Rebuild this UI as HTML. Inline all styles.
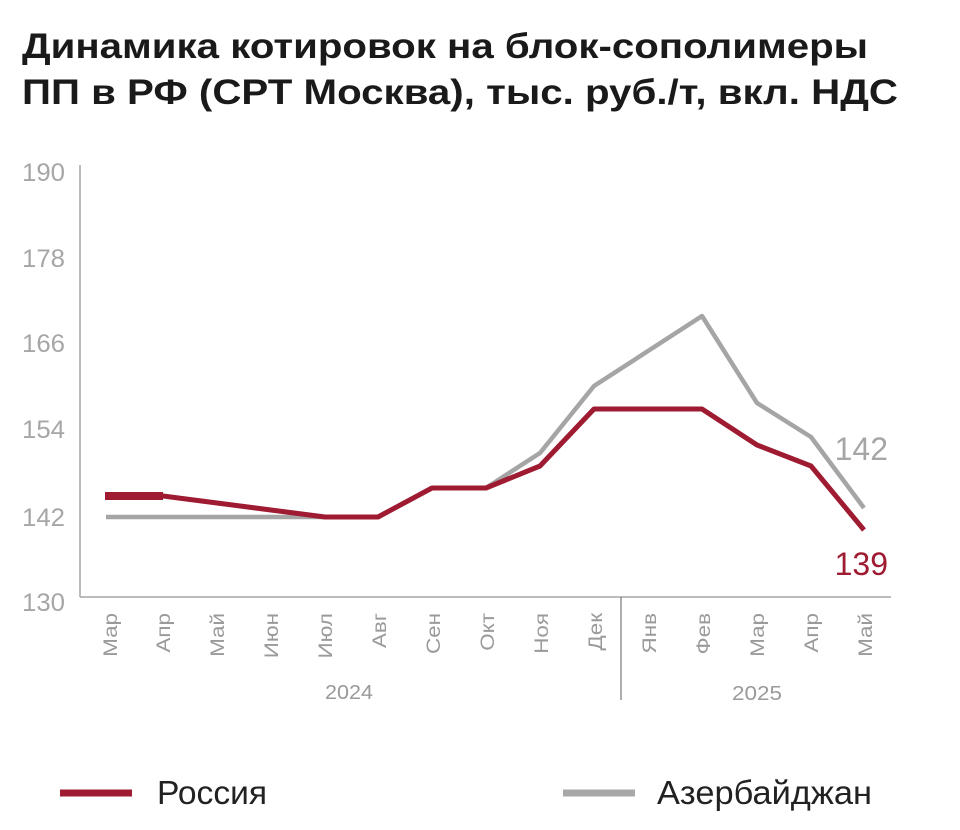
<!DOCTYPE html>
<html><head><meta charset="utf-8"><style>
html,body{margin:0;padding:0;background:#fff;}
svg{display:block;}
</style></head><body>
<svg width="960" height="830" viewBox="0 0 960 830" xmlns="http://www.w3.org/2000/svg">
<rect width="960" height="830" fill="#fff"/>
<g font-family="Liberation Sans, Arial, sans-serif" font-weight="bold" fill="#1a1a1a" font-size="35">
<text x="22" y="58" textLength="846" lengthAdjust="spacingAndGlyphs">Динамика котировок на блок-сополимеры</text>
<text x="22" y="104" textLength="876" lengthAdjust="spacingAndGlyphs">ПП в РФ (СРТ Москва), тыс. руб./т, вкл. НДС</text>
</g>
<g font-family="Liberation Sans, Arial, sans-serif" fill="#a6a6a6" font-size="25" text-anchor="end">
<text x="65" y="181" textLength="43" lengthAdjust="spacingAndGlyphs">190</text>
<text x="65" y="267" textLength="43" lengthAdjust="spacingAndGlyphs">178</text>
<text x="65" y="352" textLength="43" lengthAdjust="spacingAndGlyphs">166</text>
<text x="65" y="438" textLength="43" lengthAdjust="spacingAndGlyphs">154</text>
<text x="65" y="526" textLength="43" lengthAdjust="spacingAndGlyphs">142</text>
<text x="65" y="611" textLength="43" lengthAdjust="spacingAndGlyphs">130</text>
</g>
<line x1="80" y1="165" x2="80" y2="597" stroke="#a6a6a6" stroke-width="1.5"/>
<line x1="80" y1="597" x2="891" y2="597" stroke="#a6a6a6" stroke-width="1.5"/>
<line x1="621" y1="597" x2="621" y2="700" stroke="#777" stroke-width="1.2"/>
<g font-family="Liberation Sans, Arial, sans-serif" fill="#9a9a9a" font-size="19" text-anchor="end">
<text transform="translate(117,613) rotate(-90) scale(1.18,1)">Мар</text>
<text transform="translate(170,613) rotate(-90) scale(1.18,1)">Апр</text>
<text transform="translate(224,613) rotate(-90) scale(1.18,1)">Май</text>
<text transform="translate(278,613) rotate(-90) scale(1.18,1)">Июн</text>
<text transform="translate(332,613) rotate(-90) scale(1.18,1)">Июл</text>
<text transform="translate(386,613) rotate(-90) scale(1.18,1)">Авг</text>
<text transform="translate(440,613) rotate(-90) scale(1.18,1)">Сен</text>
<text transform="translate(494,613) rotate(-90) scale(1.18,1)">Окт</text>
<text transform="translate(548,613) rotate(-90) scale(1.18,1)">Ноя</text>
<text transform="translate(602,613) rotate(-90) scale(1.18,1)">Дек</text>
<text transform="translate(656,613) rotate(-90) scale(1.18,1)">Янв</text>
<text transform="translate(710,613) rotate(-90) scale(1.18,1)">Фев</text>
<text transform="translate(764,613) rotate(-90) scale(1.18,1)">Мар</text>
<text transform="translate(818,613) rotate(-90) scale(1.18,1)">Апр</text>
<text transform="translate(872,613) rotate(-90) scale(1.18,1)">Май</text>
</g>
<g font-family="Liberation Sans, Arial, sans-serif" fill="#9a9a9a" font-size="20" text-anchor="middle">
<text x="349" y="699" textLength="48" lengthAdjust="spacingAndGlyphs">2024</text>
<text x="757" y="700" textLength="50" lengthAdjust="spacingAndGlyphs">2025</text>
</g>
<polyline fill="none" stroke="#a5a5a5" stroke-width="4.5" stroke-linejoin="round"
points="106,517 163,517 217,517 271,517 325,517 378,517 432,488 486,488 540,453 594,386 648,351 702,316 757,403 811,437 864,508"/>
<polyline fill="none" stroke="#9e1b32" stroke-width="5" stroke-linejoin="round"
points="109,496 163,496 217,503 271,510 325,517 378,517 432,488 486,488 540,466 594,409 648,409 702,409 757,445 811,466 864,530"/>
<line x1="105" y1="496" x2="163" y2="496" stroke="#9e1b32" stroke-width="8"/>
<text x="888" y="460" font-family="Liberation Sans, Arial, sans-serif" font-size="32" fill="#a6a6a6" text-anchor="end">142</text>
<text x="888" y="575" font-family="Liberation Sans, Arial, sans-serif" font-size="32" fill="#9e1b32" text-anchor="end">139</text>
<line x1="60" y1="793" x2="132" y2="793" stroke="#9e1b32" stroke-width="7"/>
<line x1="563" y1="793" x2="635" y2="793" stroke="#a8a8a8" stroke-width="7"/>
<g font-family="Liberation Sans, Arial, sans-serif" fill="#222" font-size="33">
<text x="157" y="804" textLength="110" lengthAdjust="spacingAndGlyphs">Россия</text>
<text x="657" y="804" textLength="215" lengthAdjust="spacingAndGlyphs">Азербайджан</text>
</g>
</svg>
</body></html>
